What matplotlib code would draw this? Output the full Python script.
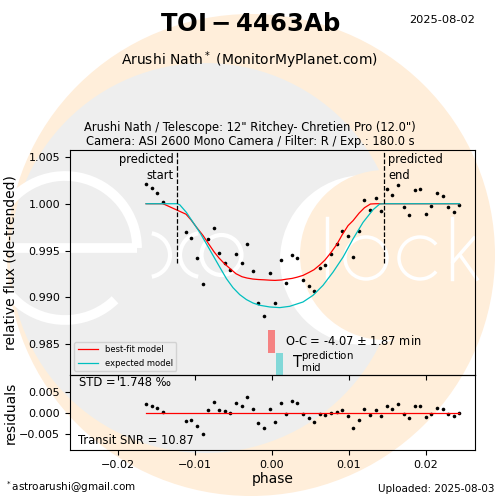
import matplotlib
matplotlib.use('Agg')
import matplotlib.pyplot as plt
from matplotlib.patches import Circle, Ellipse, Arc

# data -------------------------------------------------------------
phase = [-0.01632, -0.01555, -0.01490, -0.01412, -0.01113, -0.01048, -0.00970,
         -0.00892, -0.00827, -0.00749, -0.00684, -0.00606, -0.00536, -0.00464,
         -0.00386, -0.00321, -0.00243, -0.00173, -0.00100, -0.00022, 0.00043,
         0.00126, 0.00191, 0.00264, 0.00329, 0.00406, 0.00484, 0.00549,
         0.00627, 0.00692, 0.00770, 0.00848, 0.00913, 0.00991, 0.01056,
         0.01134, 0.01204, 0.01282, 0.01355, 0.01425, 0.01497, 0.01568,
         0.01645, 0.01718, 0.01788, 0.01861, 0.01931, 0.02009, 0.02074,
         0.02147, 0.02225, 0.02295, 0.02368, 0.02438]
flux = [1.00210, 1.00167, 1.00114, 1.00021, 0.99702, 0.99635, 0.99422,
        0.99146, 0.99624, 0.99741, 0.99476, 0.99369, 0.99295, 0.99465,
        0.99369, 0.99571, 0.99284, 0.98944, 0.98805, 0.99263, 0.98944,
        0.99401, 0.99152, 0.99454, 0.99422, 0.99188, 0.99124, 0.99071,
        0.99316, 0.99348, 0.99465, 0.99571, 0.99710, 0.99656, 0.99433,
        0.99713, 1.00039, 0.99933, 1.00061, 0.99922, 1.00152, 1.00093,
        1.00199, 0.99965, 0.99880, 1.00146, 1.00152, 0.99890, 0.99976,
        1.00114, 1.00082, 0.99965, 0.99912, 0.99986]
residuals = [0.00214, 0.00167, 0.00119, 0.00017, -0.00198, -0.00167, -0.00317,
             -0.00507, 0.00064, 0.00255, 0.00064, 0.00040, -0.00007, 0.00231,
             0.00160, 0.00381, 0.00088, -0.00245, -0.00364, 0.00088, -0.00221,
             0.00231, -0.00031, 0.00279, 0.00231, -0.00031, -0.00126, -0.00221,
             -0.00031, -0.00055, -0.00007, 0.00017, 0.00064, -0.00079, -0.00364,
             -0.00174, 0.00088, -0.00055, 0.00064, -0.00079, 0.00160, 0.00088,
             0.00207, -0.00031, -0.00126, 0.00160, 0.00160, -0.00102, -0.00031,
             0.00112, 0.00088, -0.00031, -0.00079, -0.00007]
fit_flux = [1.0, 1.0, 1.0, 1.0, 0.99888, 0.99827, 0.99741, 0.99660, 0.99580,
            0.99486, 0.99419, 0.99353, 0.99303, 0.99252, 0.99220, 0.99206,
            0.99195, 0.99190, 0.99187, 0.99183, 0.99181, 0.99185, 0.99194,
            0.99202, 0.99215, 0.99234, 0.99266, 0.99295, 0.99348, 0.99399,
            0.99479, 0.99569, 0.99665, 0.99766, 0.99819, 0.99899, 0.99957,
            0.99997, 1.0, 1.0, 1.0, 1.0, 1.0, 1.0, 1.0, 1.0, 1.0, 1.0, 1.0,
            1.0, 1.0, 1.0, 1.0, 1.0]
exp_phase = [-0.01632, -0.01227, -0.01195, -0.01108, -0.01022, -0.00935,
             -0.00848, -0.00762, -0.00675, -0.00588, -0.00503, -0.00416,
             -0.00329, -0.00243, -0.00156, -0.00026, 0.00104, 0.00234,
             0.00406, 0.00536, 0.00666, 0.00796, 0.00926, 0.01056, 0.01186,
             0.01316, 0.01403, 0.01461, 0.02438]
exp_flux = [1.0, 1.0, 0.99989, 0.99907, 0.99801, 0.99695, 0.99571, 0.99447,
            0.99322, 0.99199, 0.99103, 0.99029, 0.98976, 0.98939, 0.98915,
            0.98897, 0.98890, 0.98904, 0.98950, 0.99021, 0.99128, 0.99269,
            0.99429, 0.99624, 0.99801, 0.99936, 0.99997, 1.0, 1.0]

pred_start = -0.01227
pred_end = 0.01461
tmid_fit, tmid_fit_err = 0.0, 0.00046
tmid_pred, tmid_pred_err = 0.00097, 0.00045

ORANGE = '#FFEEDA'
GREY = '#EEEEEE'


def draw_logo(fig):
    bg = fig.add_axes([0, 0, 1, 1], zorder=-10)
    bg.set_xlim(0, 500)
    bg.set_ylim(500, 0)
    bg.axis('off')
    bg.add_patch(Ellipse((251, 255), 488, 482, color=ORANGE, lw=0))
    bg.add_patch(Circle((205, 258), 195, color=GREY, lw=0))
    # the "c" crescent
    bg.add_patch(Circle((365, 260), 85, color='white', lw=0))
    bg.add_patch(Circle((385, 255), 85, color=ORANGE, lw=0))
    # "e"
    bg.add_patch(Arc((65, 248), 144, 144, theta1=46, theta2=360,
                     color='white', lw=7))
    bg.plot([-10, 137], [248, 248], color='white', lw=7, solid_capstyle='butt')
    # "x" as )( and "o"
    bg.add_patch(Arc((148, 255), 44, 44, theta1=-80, theta2=80, color='white', lw=3))
    bg.add_patch(Arc((202, 255), 44, 44, theta1=100, theta2=260, color='white', lw=3))
    bg.add_patch(Circle((221.5, 255), 20, fill=False, ec='white', lw=3))
    # "lock"
    bg.plot([327, 327], [218, 279], color='white', lw=2.5)
    bg.add_patch(Circle((366, 258), 21, fill=False, ec='white', lw=2.5))
    bg.add_patch(Arc((420, 258), 42, 42, theta1=40, theta2=320, color='white', lw=2.5))
    bg.plot([452, 452], [218, 279], color='white', lw=2.5)
    bg.plot([474, 453], [238, 262], color='white', lw=2.5)
    bg.plot([460, 477], [255, 279], color='white', lw=2.5)


fig = plt.figure(figsize=(5, 5), dpi=100)
draw_logo(fig)

ax = fig.add_axes([0.14, 0.25, 0.81, 0.45], facecolor='none')
axr = fig.add_axes([0.14, 0.10, 0.81, 0.15], facecolor='none', sharex=ax)

ax.plot(phase, flux, 'ko', ms=2.6, mew=0)
ax.plot(phase, fit_flux, color='r', lw=0.9, label='best-fit model')
ax.plot(exp_phase, exp_flux, color='c', lw=0.9, label='expected model')
ax.axvline(pred_start, ymin=0.5, color='k', ls='--', lw=0.9)
ax.axvline(pred_end, ymin=0.5, color='k', ls='--', lw=0.9)
ax.axvspan(tmid_fit - tmid_fit_err, tmid_fit + tmid_fit_err, ymin=0.098,
           ymax=0.2, color='r', alpha=0.45, lw=0)
ax.axvspan(tmid_pred - tmid_pred_err, tmid_pred + tmid_pred_err, ymin=0,
           ymax=0.098, color='c', alpha=0.45, lw=0)

ax.text(pred_start - 0.0005, 1.0054, 'predicted\nstart', ha='right', va='top',
        fontsize=8.3, linespacing=1.3)
ax.text(pred_end + 0.0005, 1.0054, 'predicted\nend', ha='left', va='top',
        fontsize=8.3, linespacing=1.3)
ax.text(0.0017, 0.9853, 'O-C = -4.07 $\\pm$ 1.87 min', va='center', fontsize=8.3)
ax.text(0.0026, 0.9831, r'$\mathregular{T_{mid}^{prediction}}$', va='center',
        fontsize=10.5)

ax.set_xlim(-0.0262, 0.0264)
ax.set_ylim(0.9817, 1.00574)
ax.set_yticks([0.985, 0.990, 0.995, 1.000, 1.005])
ax.ticklabel_format(axis='y', useOffset=False)
ax.tick_params(labelbottom=False, labelsize=8)
ax.set_ylabel('relative flux (de-trended)', fontsize=10)
ax.yaxis.set_label_coords(-0.13, 0.5)
ax.legend(loc='lower left', fontsize=6, facecolor='none', edgecolor='0.8',
          handlelength=2.5)

axr.plot(phase, residuals, 'ko', ms=2.6, mew=0)
axr.plot([phase[0], phase[-1]], [0, 0], color='r', lw=0.9)
axr.set_ylim(-0.0088, 0.0090)
axr.set_yticks([-0.005, 0.0, 0.005])
axr.set_xticks([-0.02, -0.01, 0.0, 0.01, 0.02])
axr.tick_params(labelsize=8)
axr.set_ylabel('residuals', fontsize=10)
axr.yaxis.set_label_coords(-0.13, 0.5)
axr.set_xlabel('phase', fontsize=10, labelpad=2)
axr.text(0.022, 0.99, 'STD = 1.748 \u2030', transform=axr.transAxes,
         va='top', fontsize=8.3)
axr.text(0.02, 0.04, 'Transit SNR = 10.87', transform=axr.transAxes,
         va='bottom', fontsize=8.3)

fig.text(0.5, 0.952, r'$\mathbf{TOI-4463Ab}$', ha='center', va='center',
         fontsize=17.5)
fig.text(0.884, 0.96, '2025-08-02', ha='center', va='center', fontsize=8.2)
fig.text(0.5, 0.88, 'Arushi Nath$^*$ (MonitorMyPlanet.com)', ha='center',
         va='center', fontsize=10)
fig.text(0.5, 0.704, 'Arushi Nath / Telescope: 12" Ritchey- Chretien Pro (12.0")\n'
         'Camera: ASI 2600 Mono Camera / Filter: R / Exp.: 180.0 s',
         ha='center', va='bottom', fontsize=8.3, linespacing=1.15)
fig.text(0.01, 0.026, '$^*$astroarushi@gmail.com', ha='left', va='center',
         fontsize=7.5)
fig.text(0.99, 0.022, 'Uploaded: 2025-08-03', ha='right', va='center',
         fontsize=7.5)

fig.savefig('out.png', dpi=100)
